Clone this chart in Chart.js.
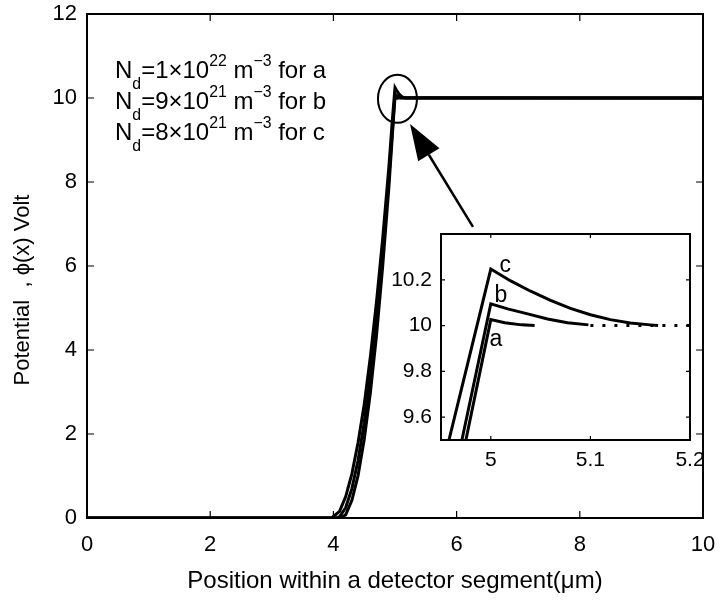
<!DOCTYPE html>
<html lang="en">
<head>
    <meta charset="UTF-8">
    <title>Potential within a detector segment</title>
    <script src="https://cdn.jsdelivr.net/npm/chart.js"></script>
    <style>
        body {
            margin: 0;
            background-color: #ffffff;
        }
        .wrap {
            position: relative;
            width: 720px;
            height: 601px;
        }
        #mainChart {
            position: absolute;
            left: 0;
            top: 0;
        }
        #insetChart {
            position: absolute;
            left: 360px;
            top: 224px;
        }
    </style>
</head>
<body>
    <div class="wrap">
        <canvas id="mainChart" width="720" height="601"></canvas>
        <canvas id="insetChart" width="350" height="270"></canvas>
    </div>

    <script>
        // main curves (position in um, potential in V)
        const aX = [0, 4.12, 4.2, 4.3, 4.4, 4.5, 4.6, 4.7, 4.8, 4.9, 4.975, 5.0, 5.014, 5.031, 5.044, 10];
        const aY = [0, 0, 0.08, 0.42, 1.01, 1.87, 2.98, 4.35, 5.99, 7.86, 9.5, 10.026, 10.012, 10.003, 10.0, 10];
        const bX = [0, 4.05, 4.1, 4.2, 4.3, 4.4, 4.5, 4.6, 4.7, 4.8, 4.9, 4.971, 5.0, 5.017, 5.037, 5.057, 5.077, 5.098, 10];
        const bY = [0, 0, 0.03, 0.25, 0.7, 1.37, 2.27, 3.38, 4.73, 6.29, 8.09, 9.5, 10.095, 10.073, 10.051, 10.029, 10.012, 10.003, 10];
        const cX = [0, 3.97, 4.1, 4.2, 4.3, 4.4, 4.5, 4.6, 4.7, 4.8, 4.9, 4.958, 5.0, 5.02, 5.04, 5.06, 5.08, 5.1, 5.12, 5.14, 5.16, 5.168, 10];
        const cY = [0, 0, 0.16, 0.51, 1.05, 1.79, 2.7, 3.84, 5.15, 6.65, 8.35, 9.5, 10.247, 10.195, 10.15, 10.11, 10.075, 10.047, 10.026, 10.011, 10.003, 10.0, 10];

        // zoomed view near the peak
        const insetAX = [4.9, 4.975, 5.0, 5.014, 5.031, 5.044];
        const insetAY = [7.86, 9.5, 10.026, 10.012, 10.003, 10.0];
        const insetBX = [4.9, 4.971, 5.0, 5.017, 5.037, 5.057, 5.077, 5.098];
        const insetBY = [8.09, 9.5, 10.095, 10.073, 10.051, 10.029, 10.012, 10.003];
        const insetCX = [4.9, 4.958, 5.0, 5.02, 5.04, 5.06, 5.08, 5.1, 5.12, 5.14, 5.16, 5.168];
        const insetCY = [8.35, 9.5, 10.247, 10.195, 10.15, 10.11, 10.075, 10.047, 10.026, 10.011, 10.003, 10.0];
        const insetTailX = [5.1, 5.2];
        const insetTailY = [10, 10];

        const xTicks = [0, 2, 4, 6, 8, 10];
        const yTicks = [0, 2, 4, 6, 8, 10, 12];
        const insetXTicks = [5, 5.1, 5.2];
        const insetYTicks = [9.6, 9.8, 10, 10.2];

        const curveNames = ['a', 'b', 'c'];
        const ndMantissa = ['1', '9', '8'];
        const ndExponent = ['22', '21', '21'];

        const FONT = "'Liberation Sans', Arial, Helvetica, sans-serif";

        const toPoints = (xs, ys) => xs.map((x, i) => ({ x: x, y: ys[i] }));

        const lineSet = (label, pts, extra) => Object.assign({
            label: label,
            data: pts,
            borderColor: '#000000',
            borderWidth: 3,
            pointRadius: 0,
            tension: 0,
            fill: false
        }, extra || {});

        // keep the plot box exactly where it is, labels may hang over
        const noOverhang = s => {
            s.paddingLeft = 0; s.paddingRight = 0;
            s.paddingTop = 0; s.paddingBottom = 0;
        };

        // box + inward ticks on all four sides, like matlab
        const boxPlugin = (tickLen, lw) => ({
            id: 'box',
            afterDatasetsDraw(chart) {
                const { ctx, chartArea: a, scales } = chart;
                ctx.save();
                ctx.strokeStyle = '#000';
                ctx.lineWidth = lw;
                ctx.strokeRect(a.left, a.top, a.right - a.left, a.bottom - a.top);
                ctx.lineWidth = 1.2;
                ctx.beginPath();
                scales.x.ticks.forEach(t => {
                    const px = scales.x.getPixelForValue(t.value);
                    ctx.moveTo(px, a.bottom); ctx.lineTo(px, a.bottom - tickLen);
                    ctx.moveTo(px, a.top); ctx.lineTo(px, a.top + tickLen);
                });
                scales.y.ticks.forEach(t => {
                    const py = scales.y.getPixelForValue(t.value);
                    ctx.moveTo(a.left, py); ctx.lineTo(a.left + tickLen, py);
                    ctx.moveTo(a.right, py); ctx.lineTo(a.right - tickLen, py);
                });
                ctx.stroke();
                ctx.restore();
            }
        });

        // text with sub/superscripts, parts = [[text, 'sub'|'sup'|''], ...]
        function drawRich(ctx, parts, x, y, size) {
            let cx = x;
            parts.forEach(([txt, kind]) => {
                const s = kind ? size * 0.66 : size;
                const dy = kind === 'sub' ? size * 0.45 : kind === 'sup' ? -size * 0.5 : 0;
                ctx.font = s + 'px ' + FONT;
                ctx.fillText(txt, cx, y + dy);
                cx += ctx.measureText(txt).width;
            });
        }

        const notesPlugin = {
            id: 'notes',
            afterDraw(chart) {
                const { ctx, chartArea: a, scales: { x, y } } = chart;
                ctx.save();
                ctx.fillStyle = '#000';
                ctx.strokeStyle = '#000';
                ctx.textBaseline = 'alphabetic';
                ctx.textAlign = 'left';

                // doping labels
                ndMantissa.forEach((m, i) => {
                    drawRich(ctx, [
                        ['N', ''], ['d', 'sub'], ['=' + m + '\u00d710', ''], [ndExponent[i], 'sup'],
                        [' m', ''], ['\u22123', 'sup'], [' for ' + curveNames[i], '']
                    ], a.left + 28, a.top + 64 + i * 31, 24);
                });

                // circle around the peak
                ctx.lineWidth = 2;
                ctx.beginPath();
                ctx.ellipse(x.getPixelForValue(5.04), y.getPixelForValue(9.98), 19.5, 24, 0, 0, Math.PI * 2);
                ctx.stroke();

                // arrow pointing to it from the inset
                const tx = x.getPixelForValue(5.244), ty = y.getPixelForValue(9.38);
                const sx = x.getPixelForValue(6.266), sy = y.getPixelForValue(6.93);
                const ang = Math.atan2(ty - sy, tx - sx);
                const hl = 36, hw = 12.5;
                const bx = tx - hl * Math.cos(ang), by = ty - hl * Math.sin(ang);
                ctx.lineWidth = 2.5;
                ctx.beginPath();
                ctx.moveTo(sx, sy);
                ctx.lineTo(bx, by);
                ctx.stroke();
                ctx.beginPath();
                ctx.moveTo(tx, ty);
                ctx.lineTo(bx + hw * Math.sin(ang), by - hw * Math.cos(ang));
                ctx.lineTo(bx - hw * Math.sin(ang), by + hw * Math.cos(ang));
                ctx.closePath();
                ctx.fill();

                // y axis title
                ctx.translate(23, 290);
                ctx.rotate(-Math.PI / 2);
                ctx.textAlign = 'center';
                ctx.textBaseline = 'middle';
                ctx.font = '22px ' + FONT;
                ctx.fillText('Potential  , \u03d5(x) Volt', 0, 0);
                ctx.restore();
            }
        };

        const mainChart = new Chart(document.getElementById('mainChart'), {
            type: 'line',
            data: {
                datasets: [
                    lineSet('a', toPoints(aX, aY)),
                    lineSet('b', toPoints(bX, bY)),
                    lineSet('c', toPoints(cX, cY))
                ]
            },
            options: {
                responsive: false,
                animation: false,
                layout: { padding: { top: 14, right: 17, left: 0, bottom: 0 } },
                plugins: { legend: { display: false }, tooltip: { enabled: false } },
                scales: {
                    x: {
                        type: 'linear',
                        min: 0,
                        max: 10,
                        afterBuildTicks: s => { s.ticks = xTicks.map(v => ({ value: v })); },
                        afterFit: s => { s.height = 83; noOverhang(s); },
                        grid: { display: false, drawTicks: false },
                        border: { display: false },
                        ticks: { color: '#000', padding: 14, maxRotation: 0, font: { family: FONT, size: 22 } },
                        title: {
                            display: true,
                            text: 'Position within a detector segment(\u03bcm)',
                            color: '#000',
                            font: { family: FONT, size: 24 },
                            padding: { top: 0, bottom: 5 }
                        }
                    },
                    y: {
                        type: 'linear',
                        min: 0,
                        max: 12,
                        afterBuildTicks: s => { s.ticks = yTicks.map(v => ({ value: v })); },
                        afterFit: s => { s.width = 87; noOverhang(s); },
                        grid: { display: false, drawTicks: false },
                        border: { display: false },
                        ticks: { color: '#000', padding: 10, font: { family: FONT, size: 22 } }
                    }
                }
            },
            plugins: [boxPlugin(7, 2), notesPlugin]
        });

        const insetLabels = {
            id: 'insetLabels',
            beforeDraw(chart) {
                const { ctx, chartArea: a } = chart;
                ctx.save();
                ctx.fillStyle = '#fff';
                ctx.fillRect(a.left, a.top, a.right - a.left, a.bottom - a.top);
                ctx.restore();
            },
            afterDraw(chart) {
                const { ctx, scales: { x, y } } = chart;
                ctx.save();
                ctx.fillStyle = '#000';
                ctx.font = '23px ' + FONT;
                ctx.textBaseline = 'alphabetic';
                ctx.fillText('c', x.getPixelForValue(5.0087), y.getPixelForValue(10.235));
                ctx.fillText('b', x.getPixelForValue(5.0037), y.getPixelForValue(10.104));
                ctx.fillText('a', x.getPixelForValue(4.9987), y.getPixelForValue(9.911));
                ctx.restore();
            }
        };

        const insetChart = new Chart(document.getElementById('insetChart'), {
            type: 'line',
            data: {
                datasets: [
                    lineSet('a', toPoints(insetAX, insetAY)),
                    lineSet('b', toPoints(insetBX, insetBY)),
                    lineSet('c', toPoints(insetCX, insetCY)),
                    lineSet('tail', toPoints(insetTailX, insetTailY), { borderDash: [3, 9] })
                ]
            },
            options: {
                responsive: false,
                animation: false,
                layout: { padding: { top: 10, right: 20, left: 0, bottom: 0 } },
                plugins: { legend: { display: false }, tooltip: { enabled: false } },
                scales: {
                    x: {
                        type: 'linear',
                        min: 4.95,
                        max: 5.2,
                        afterBuildTicks: s => { s.ticks = insetXTicks.map(v => ({ value: v })); },
                        afterFit: s => { s.height = 54; noOverhang(s); },
                        grid: { display: false, drawTicks: false },
                        border: { display: false },
                        ticks: {
                            color: '#000', padding: 8, maxRotation: 0,
                            font: { family: FONT, size: 21 },
                            callback: v => String(Math.round(v * 10) / 10)
                        }
                    },
                    y: {
                        type: 'linear',
                        min: 9.5,
                        max: 10.4,
                        afterBuildTicks: s => { s.ticks = insetYTicks.map(v => ({ value: v })); },
                        afterFit: s => { s.width = 81; noOverhang(s); },
                        grid: { display: false, drawTicks: false },
                        border: { display: false },
                        ticks: {
                            color: '#000', padding: 9,
                            font: { family: FONT, size: 21 },
                            callback: v => String(Math.round(v * 10) / 10)
                        }
                    }
                }
            },
            plugins: [insetLabels, boxPlugin(4, 2)]
        });
    </script>
</body>
</html>
